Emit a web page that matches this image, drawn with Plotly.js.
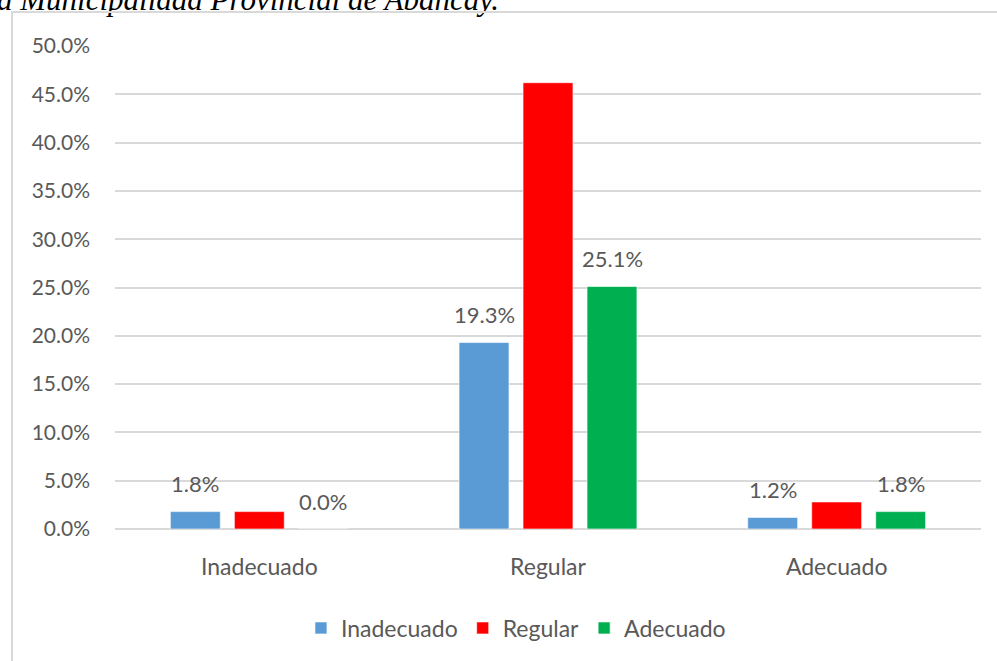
<!DOCTYPE html>
<html>
<head>
<meta charset="utf-8">
<script src="https://cdn.plot.ly/plotly-3.0.1.min.js"></script>
<style>
  html, body { margin: 0; padding: 0; background: #ffffff; }
  #wrap { position: relative; width: 997px; height: 661px; overflow: hidden; }
  #frame { position: absolute; left: 11px; top: 11px; width: 1000px; height: 700px;
           border: 2px solid #d9d9d9; box-sizing: border-box; pointer-events: none; }
  #chart { position: absolute; left: 0; top: 0; width: 997px; height: 661px; }
</style>
</head>
<body>
<div id="wrap">
  <div id="chart"></div>
  <div id="frame"></div>
</div>
<script>
const categories = ['Inadecuado', 'Regular', 'Adecuado'];
const seriesNames = ['Inadecuado', 'Regular', 'Adecuado'];
const inadecuadoValues = [1.8, 19.3, 1.2];
const regularValues = [1.8, 46.2, 2.8];
const adecuadoValues = [0.0, 25.1, 1.8];
const labelledSeries = [true, false, true];
const yTickValues = [0, 5, 10, 15, 20, 25, 30, 35, 40, 45, 50];
const yTickLabels = ['0.0%', '5.0%', '10.0%', '15.0%', '20.0%', '25.0%', '30.0%', '35.0%', '40.0%', '45.0%', '50.0%'];
const headingText = 'a Municipalidad Provincial de Abancay.';

const colors = ['#5B9BD5', '#FF0000', '#00B050'];
const allValues = [inadecuadoValues, regularValues, adecuadoValues];
const font = 'Lato, "Open Sans", sans-serif';
const grey = '#595959';

const traces = allValues.map((vals, i) => ({
  type: 'bar',
  name: seriesNames[i],
  x: categories,
  y: vals,
  marker: { color: colors[i], line: { color: 'rgba(255,255,255,0.6)', width: 1 } },
  hoverinfo: 'skip'
}));

const annotations = [];
const offsets = [-64, 0, 64];
allValues.forEach((vals, i) => {
  if (!labelledSeries[i]) return;
  vals.forEach((v, j) => {
    annotations.push({
      x: categories[j], y: v, xref: 'x', yref: 'y',
      text: v.toFixed(1) + '%', showarrow: false,
      xshift: offsets[i], yshift: 28, yanchor: 'middle',
      font: { family: font, size: 22, color: grey }
    });
  });
});
annotations.push({
  xref: 'paper', yref: 'paper', x: 0, y: 1, xanchor: 'left', yanchor: 'bottom',
  xshift: -120, yshift: 27,
  text: '<i>' + headingText + '</i>', showarrow: false,
  font: { family: '"Liberation Serif", "Times New Roman", serif', size: 31, color: '#000000' }
});

const layout = {
  width: 997, height: 661,
  margin: { l: 115, r: 16, t: 46, b: 132 },
  paper_bgcolor: 'rgba(0,0,0,0)',
  plot_bgcolor: 'rgba(0,0,0,0)',
  barmode: 'group',
  bargap: 0.335,
  bargroupgap: 0.22,
  showlegend: true,
  legend: {
    orientation: 'h', x: 0.463, xanchor: 'center', y: -0.205, yanchor: 'middle',
    font: { family: font, size: 23, color: grey },
    itemclick: false, itemdoubleclick: false
  },
  xaxis: {
    type: 'category', showgrid: false, zeroline: false, showline: false,
    ticks: '', ticklabelstandoff: 22,
    tickfont: { family: font, size: 23, color: grey }
  },
  yaxis: {
    range: [0, 50], tickvals: yTickValues, ticktext: yTickLabels,
    showgrid: true, gridcolor: '#d9d9d9', gridwidth: 2,
    zeroline: true, zerolinecolor: '#d9d9d9', zerolinewidth: 2,
    showline: false, ticks: '', ticklabelstandoff: 24,
    tickfont: { family: font, size: 21, color: grey }
  },
  annotations: annotations,
  font: { family: font }
};

Plotly.newPlot('chart', traces, layout, { displayModeBar: false, staticPlot: true });
</script>
</body>
</html>
